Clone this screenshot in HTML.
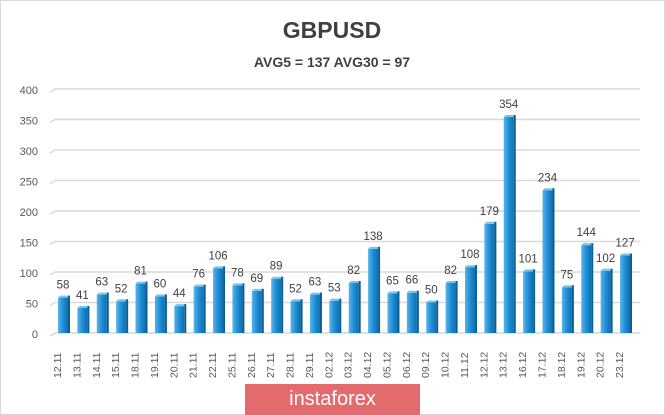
<!DOCTYPE html><html><head><style>body{margin:0;background:#fff}svg{display:block}</style></head><body>
<svg width="665" height="415" xmlns="http://www.w3.org/2000/svg" font-family="Liberation Sans, sans-serif">
<defs><linearGradient id="g" x1="0" x2="1"><stop offset="0" stop-color="#5bb4ea"/><stop offset="0.5" stop-color="#1f8fd6"/><stop offset="1" stop-color="#0f6fae"/></linearGradient></defs>
<rect x="0.5" y="0.5" width="664" height="414" fill="#fff" stroke="#d8d8d8"/>
<text x="332" y="38" text-anchor="middle" font-size="23" font-weight="bold" fill="#404040">GBPUSD</text>
<text x="332" y="67" text-anchor="middle" font-size="14" font-weight="bold" fill="#404040">AVG5 = 137 AVG30 = 97</text>
<g id="grid" stroke="#d9d9d9" stroke-width="1.5" fill="none"></g>
<g id="ylab" font-size="11" fill="#595959" text-anchor="end"></g>
<g id="bars"></g>
</svg>
<script>
var v=[58,41,63,52,81,60,44,76,106,78,69,89,52,63,53,82,138,65,66,50,82,108,179,354,101,234,75,144,102,127];
var d=["12.11","13.11","14.11","15.11","18.11","19.11","20.11","21.11","22.11","25.11","26.11","27.11","28.11","29.11","02.12","03.12","04.12","05.12","06.12","09.12","10.12","11.12","12.12","13.12","16.12","17.12","18.12","19.12","20.12","23.12"];
var ns="http://www.w3.org/2000/svg",s=document.querySelector("svg");
function Y(x){return 333-x*0.61}
function el(t,a,p,txt){var e=document.createElementNS(ns,t);for(var k in a)e.setAttribute(k,a[k]);if(txt!=null)e.textContent=txt;(p||s).appendChild(e);return e}
var G=document.getElementById("grid"),L=document.getElementById("ylab"),B=document.getElementById("bars");
for(var i=0;i<=8;i++){var y=Y(i*50);el("polyline",{points:(50)+","+(y+3)+" 55,"+y+" 640,"+y},G);el("text",{x:38,y:y+5},L,i*50);}
for(var i=0;i<30;i++){var cx=63+i*19.38,h=v[i]*0.61,t=333-h;
el("rect",{x:cx-5,y:t,width:10,height:h,fill:"url(#g)"},B);
el("polygon",{points:(cx-5)+","+t+" "+(cx+5)+","+t+" "+(cx+7)+","+(t-2)+" "+(cx-3)+","+(t-2),fill:"#7cc4ef"},B);
el("rect",{x:cx+5,y:t-2,width:2,height:h+2,fill:"#0b5f96"},B);
el("text",{x:cx,y:t-9,"text-anchor":"middle","font-size":"11.5",fill:"#404040"},B,v[i]);
el("text",{x:0,y:0,transform:"translate("+(cx-2)+",378) rotate(-90)","font-size":"10.5",fill:"#595959"},B,d[i]);}
</script>
<div style="position:absolute;left:245px;top:384px;width:175px;height:31px;background:#e36b6d;color:#fff;font:20px 'Liberation Sans',sans-serif;text-align:center;line-height:30px">instaforex</div>
</body></html>
